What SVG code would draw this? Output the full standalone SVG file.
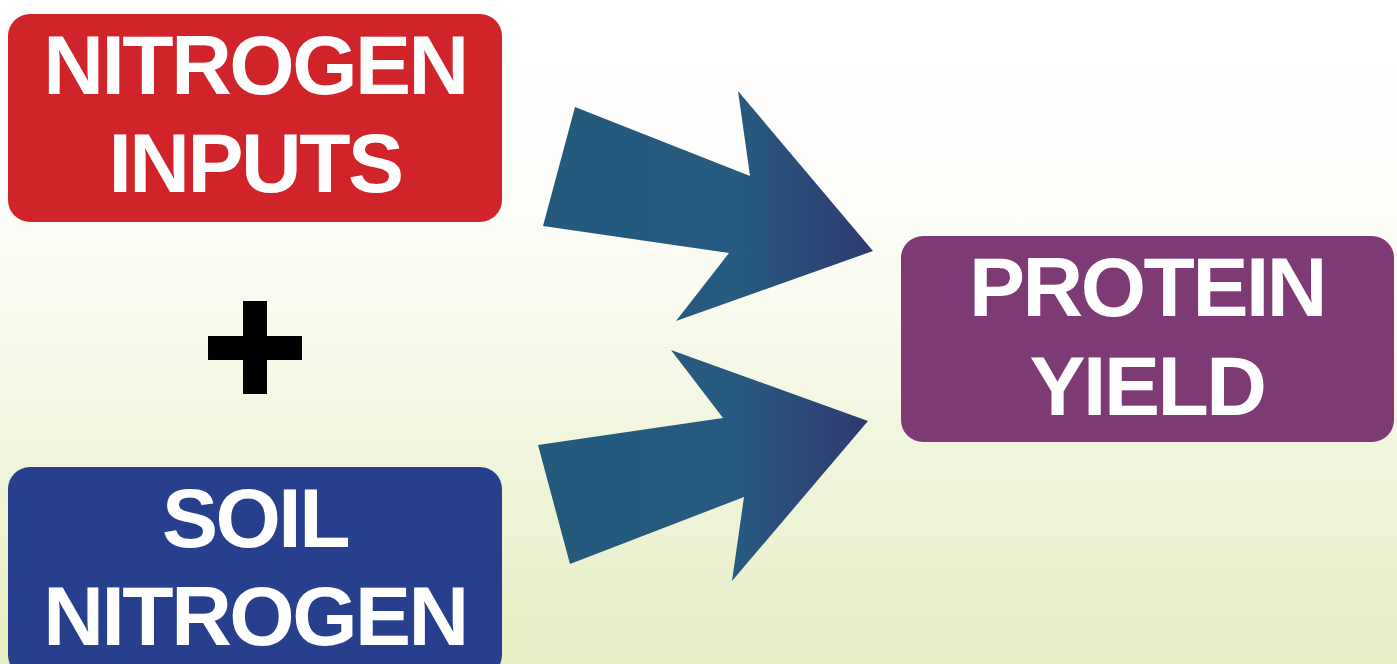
<svg xmlns="http://www.w3.org/2000/svg" width="1397" height="664" viewBox="0 0 1397 664">
<defs>
<linearGradient id="bg" x1="0" y1="0" x2="0" y2="1">
<stop offset="0" stop-color="#ffffff"/>
<stop offset="0.3" stop-color="#fdfefa"/>
<stop offset="1" stop-color="#e6eec4"/>
</linearGradient>
<linearGradient id="arr" x1="0" y1="0" x2="1" y2="0">
<stop offset="0" stop-color="#235a7c"/>
<stop offset="0.6" stop-color="#275a80"/>
<stop offset="1" stop-color="#2f3a70"/>
</linearGradient>
<style>
.lbl{font-family:"Liberation Sans",Arial,sans-serif;font-weight:bold;font-size:84px;fill:#ffffff;text-anchor:middle;letter-spacing:-2.5px}
.arrow{fill:url(#arr)}
</style>
</defs>
<rect x="0" y="0" width="1397" height="664" fill="url(#bg)"/>
<g id="connectors">
<polygon class="arrow" points="575,107 750,176 738,91 873,251 676,321 729,253 543,226"/>
<polygon class="arrow" points="538,445 723,418 671,350 868,421 732,581 744,497 570,564"/>
</g>
<g id="nitrogen-inputs">
<rect x="8" y="14" width="494" height="208" rx="22" fill="#d1232a"/>
<text class="lbl" x="255" y="94">NITROGEN</text>
<text class="lbl" x="255" y="192">INPUTS</text>
</g>
<g id="plus">
<rect x="243" y="301" width="24" height="93" fill="#000"/>
<rect x="208" y="336" width="94" height="24" fill="#000"/>
</g>
<g id="soil-nitrogen">
<rect x="8" y="467" width="494" height="210" rx="22" fill="#26408e"/>
<text class="lbl" x="255" y="547">SOIL</text>
<text class="lbl" x="255" y="645">NITROGEN</text>
</g>
<g id="protein-yield">
<rect x="901" y="236" width="493" height="206" rx="22" fill="#7e3a74"/>
<text class="lbl" x="1147" y="316">PROTEIN</text>
<text class="lbl" x="1147" y="415">YIELD</text>
</g>
</svg>
